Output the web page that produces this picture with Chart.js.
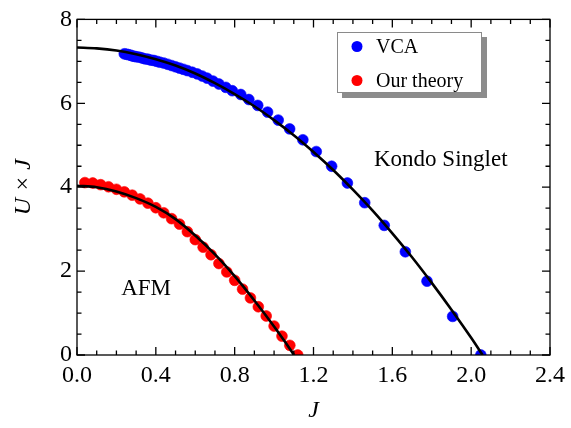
<!DOCTYPE html>
<html>
<head>
<meta charset="utf-8">
<script src="https://cdn.jsdelivr.net/npm/chart.js@4.4.0/dist/chart.umd.min.js"></script>
<style>
  html, body { margin: 0; padding: 0; background: #fff; }
  #wrap { width: 571px; height: 428px; }
</style>
</head>
<body>
<div id="wrap"><canvas id="phase"></canvas></div>
<script>
// VCA points (blue)
var vcaJ = [0.24, 0.25, 0.26, 0.27, 0.28, 0.29, 0.30, 0.315, 0.33, 0.345, 0.36, 0.375, 0.39, 0.405,
  0.42, 0.44, 0.46, 0.48, 0.50, 0.52, 0.54, 0.56, 0.585, 0.61, 0.635, 0.66, 0.69, 0.72, 0.755,
  0.788, 0.831, 0.872, 0.917, 0.967, 1.021, 1.079, 1.146, 1.214, 1.292, 1.372, 1.46, 1.559,
  1.666, 1.776, 1.906, 2.049];
var vcaU = [7.18, 7.17, 7.16, 7.15, 7.13, 7.12, 7.11, 7.10, 7.08, 7.06, 7.05, 7.03, 7.02, 7.00,
  6.98, 6.96, 6.93, 6.90, 6.87, 6.84, 6.81, 6.78, 6.74, 6.70, 6.65, 6.60, 6.53, 6.46, 6.38,
  6.30, 6.21, 6.09, 5.95, 5.79, 5.60, 5.39, 5.13, 4.85, 4.50, 4.10, 3.63, 3.09,
  2.46, 1.76, 0.92, 0.0];

// our theory points (red)
var ourJ = [0.04, 0.08, 0.12, 0.16, 0.20, 0.24, 0.28, 0.32, 0.36, 0.40, 0.44, 0.48, 0.52, 0.56,
  0.60, 0.64, 0.68, 0.72, 0.76, 0.80, 0.84, 0.88, 0.92, 0.96, 1.00, 1.04, 1.08, 1.12];
var ourU = [4.11, 4.10, 4.06, 4.01, 3.95, 3.89, 3.81, 3.72, 3.62, 3.51, 3.39, 3.25, 3.12, 2.94,
  2.75, 2.57, 2.39, 2.18, 1.98, 1.78, 1.57, 1.36, 1.15, 0.93, 0.69, 0.45, 0.23, 0.0];

// black fit curves
var vcaFitJ = [0, 0.1, 0.2, 0.3, 0.4, 0.5, 0.6, 0.7, 0.8, 0.9, 1.0, 1.1, 1.2, 1.3, 1.4, 1.5, 1.6, 1.7, 1.8, 1.9, 2.0, 2.058];
var vcaFitU = [7.33, 7.31, 7.26, 7.17, 7.05, 6.90, 6.71, 6.48, 6.22, 5.93, 5.60, 5.24, 4.84, 4.41, 3.94, 3.44, 2.90, 2.33, 1.72, 1.08, 0.41, 0.0];
var ourFitJ = [0, 0.1, 0.2, 0.3, 0.4, 0.5, 0.6, 0.7, 0.8, 0.9, 1.0, 1.05, 1.101];
var ourFitU = [4.035, 4.00, 3.90, 3.74, 3.53, 3.24, 2.85, 2.40, 1.88, 1.30, 0.68, 0.35, 0.0];

var xTicks = [0, 0.4, 0.8, 1.2, 1.6, 2.0, 2.4];
var yTicks = [0, 2, 4, 6, 8];

function pairs(xs, ys) {
  return xs.map(function (x, i) { return { x: x, y: ys[i] }; });
}

var serif = "'Liberation Serif', 'Times New Roman', serif";

var framePlugin = {
  id: "frame",
  afterDatasetsDraw: function (chart) {
    var ctx = chart.ctx, a = chart.chartArea;
    var xs = chart.scales.x, ys = chart.scales.y;
    ctx.save();
    ctx.strokeStyle = "#000";
    ctx.lineWidth = 1.3;
    ctx.strokeRect(a.left, a.top, a.right - a.left, a.bottom - a.top);
    ctx.beginPath();
    for (var i = 0; i <= 24; i++) {
      var px = xs.getPixelForValue(i * 0.1);
      var len = (i % 4 == 0) ? 8 : 4.5;
      ctx.moveTo(px, a.bottom); ctx.lineTo(px, a.bottom - len);
      ctx.moveTo(px, a.top); ctx.lineTo(px, a.top + len);
    }
    for (var j = 0; j <= 16; j++) {
      var py = ys.getPixelForValue(j * 0.5);
      var l2 = (j % 4 == 0) ? 8 : 4.5;
      ctx.moveTo(a.left, py); ctx.lineTo(a.left + l2, py);
      ctx.moveTo(a.right, py); ctx.lineTo(a.right - l2, py);
    }
    ctx.stroke();

    // region labels
    ctx.fillStyle = "#000";
    ctx.font = "23px " + serif;
    ctx.textAlign = "left";
    ctx.textBaseline = "alphabetic";
    ctx.fillText("Kondo Singlet", xs.getPixelForValue(1.507), ys.getPixelForValue(4.5));
    ctx.fillText("AFM", xs.getPixelForValue(0.224), ys.getPixelForValue(1.43));
    ctx.restore();
  },
  afterDraw: function (chart) {
    // legend with drop shadow
    var ctx = chart.ctx;
    ctx.save();
    ctx.fillStyle = "#8c8c8c";
    ctx.fillRect(342, 37, 145, 61);
    ctx.fillStyle = "#fff";
    ctx.fillRect(337, 32, 145, 61);
    ctx.strokeStyle = "#8a8a8a";
    ctx.lineWidth = 1;
    ctx.strokeRect(337.5, 32.5, 144, 60);
    var items = chart.data.datasets.filter(function (d) { return d.showInLegend; });
    ctx.font = "20px " + serif;
    ctx.textBaseline = "alphabetic";
    items.forEach(function (d, k) {
      var cy = 46.5 + k * 34;
      ctx.fillStyle = d.backgroundColor;
      ctx.beginPath();
      ctx.arc(357, cy, 5.5, 0, Math.PI * 2);
      ctx.fill();
      ctx.fillStyle = "#000";
      ctx.fillText(d.label, 376, cy + 6.5);
    });
    ctx.restore();
  }
};

new Chart(document.getElementById("phase"), {
  type: "scatter",
  data: {
    datasets: [
      {
        type: "line", label: "fit VCA", data: pairs(vcaFitJ, vcaFitU),
        borderColor: "#000", borderWidth: 2.6, pointRadius: 0, fill: false,
        cubicInterpolationMode: "monotone", order: 0, clip: 0
      },
      {
        type: "line", label: "fit ours", data: pairs(ourFitJ, ourFitU),
        borderColor: "#000", borderWidth: 2.6, pointRadius: 0, fill: false,
        cubicInterpolationMode: "monotone", order: 0, clip: 0
      },
      {
        label: "VCA", data: pairs(vcaJ, vcaU), showInLegend: true,
        backgroundColor: "#0000ff", borderColor: "#0000ff", borderWidth: 0.6,
        pointRadius: 5.4, order: 1, clip: 0
      },
      {
        label: "Our theory", data: pairs(ourJ, ourU), showInLegend: true,
        backgroundColor: "#ff0000", borderColor: "#ff0000", borderWidth: 0.6,
        pointRadius: 5.4, order: 1, clip: 0
      }
    ]
  },
  options: {
    responsive: true,
    maintainAspectRatio: false,
    animation: false,
    devicePixelRatio: 1,
    layout: { padding: { top: 13, right: 15, left: 0, bottom: 0 } },
    plugins: { legend: { display: false }, tooltip: { enabled: false } },
    scales: {
      x: {
        type: "linear", min: 0, max: 2.4,
        afterBuildTicks: function (s) { s.ticks = xTicks.map(function (v) { return { value: v }; }); },
        afterFit: function (s) { s.height = 73; },
        grid: { display: false, drawTicks: false },
        border: { display: false },
        ticks: {
          color: "#000", padding: 6, maxRotation: 0, autoSkip: false,
          font: { family: serif, size: 24 },
          callback: function (v) { return Number(v).toFixed(1); }
        },
        title: {
          display: true, text: "J", color: "#000",
          font: { family: serif, size: 24, style: "italic" },
          padding: { top: 0, bottom: 3 }
        }
      },
      y: {
        type: "linear", min: 0, max: 8,
        afterBuildTicks: function (s) { s.ticks = yTicks.map(function (v) { return { value: v }; }); },
        afterFit: function (s) { s.width = 77; },
        grid: { display: false, drawTicks: false },
        border: { display: false },
        ticks: {
          color: "#000", padding: 5, autoSkip: false,
          font: { family: serif, size: 24 },
          callback: function (v) { return String(v); }
        },
        title: {
          display: true, text: "U × J", color: "#000",
          font: { family: serif, size: 24, style: "italic" },
          padding: { top: 9, bottom: 0 }
        }
      }
    }
  },
  plugins: [framePlugin]
});
</script>
</body>
</html>
